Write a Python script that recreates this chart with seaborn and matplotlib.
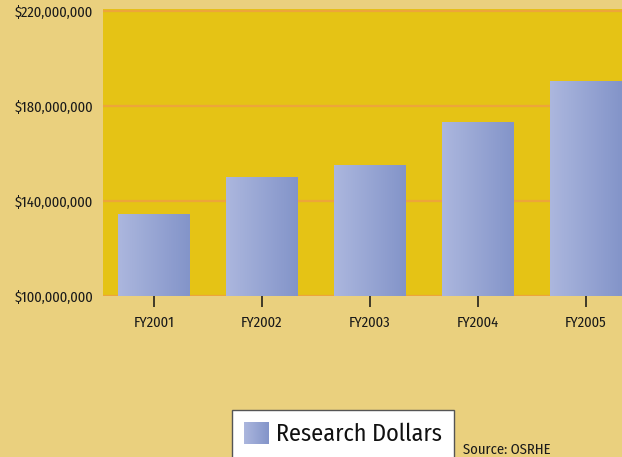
import numpy as np
import pandas as pd
import matplotlib
matplotlib.use("Agg")
import matplotlib.pyplot as plt
from matplotlib.colors import LinearSegmentedColormap
from matplotlib.ticker import FuncFormatter
from matplotlib.patches import Patch
import seaborn as sns

# Research dollars by fiscal year
years = ["FY2001", "FY2002", "FY2003", "FY2004", "FY2005"]
dollars = [134_500_000, 150_000_000, 155_000_000, 173_000_000, 190_500_000]
y_ticks = [100_000_000, 140_000_000, 180_000_000, 220_000_000]
series_name = "Research Dollars"
source_note = "Source: OSRHE"

FONT = ["Fira Sans Condensed", "DejaVu Sans"]
BG = "#ead07e"
PLOT_BG = "#e5c315"
GRID = "#eda53a"
BAR_LIGHT = "#acb7de"
BAR_DARK = "#8394c9"
bar_cmap = LinearSegmentedColormap.from_list("bar", [BAR_LIGHT, BAR_DARK])

plt.rcParams["font.family"] = FONT

fig = plt.figure(figsize=(6.22, 4.57), dpi=100, facecolor=BG)
ax = fig.add_axes([103 / 622, 1 - 296 / 457, (640 - 103) / 622, (296 - 9) / 457])
ax.set_facecolor(PLOT_BG)

df = pd.DataFrame({"year": years, "dollars": dollars})
sns.barplot(data=df, x="year", y="dollars", color=BAR_DARK, width=0.66,
            saturation=1, ax=ax, zorder=2)

# horizontal light-to-dark fill on each bar
grad = np.linspace(0, 1, 256).reshape(1, -1)
for patch in ax.patches:
    x0, y0 = patch.get_x(), patch.get_y()
    w, h = patch.get_width(), patch.get_height()
    ax.imshow(grad, extent=[x0, x0 + w, y0, y0 + h], aspect="auto",
              cmap=bar_cmap, zorder=3, interpolation="bilinear")

ax.set_xlim(-0.472, 4.5)
ax.set_ylim(100_000_000, 221_000_000)
ax.set_yticks(y_ticks)
ax.yaxis.set_major_formatter(FuncFormatter(lambda v, p: f"${v:,.0f}"))

ax.set_axisbelow(True)
ax.yaxis.grid(True, color=GRID, linewidth=1.6)
ax.xaxis.grid(False)
for s in ax.spines.values():
    s.set_visible(False)

ax.set_xlabel("")
ax.set_ylabel("")
ax.tick_params(axis="x", direction="out", length=8, width=1.1, color="#111111",
               pad=6.5, labelsize=10.5, labelcolor="#1a1a1a")
ax.tick_params(axis="y", length=0, pad=7, labelsize=10.5, labelcolor="#1a1a1a")

# legend below the chart
handle = Patch(facecolor=BAR_DARK, edgecolor="none", label=series_name)
leg = fig.legend(handles=[handle], loc="upper left",
                 bbox_to_anchor=(232 / 622, 1 - 410 / 457),
                 bbox_transform=fig.transFigure, frameon=True, fancybox=False,
                 fontsize=17.4, handlelength=1.0, handleheight=1.0,
                 handletextpad=0.33, borderpad=0.5, borderaxespad=0)
leg.get_frame().set_edgecolor("#555555")
leg.get_frame().set_linewidth(1.0)
leg.get_frame().set_facecolor("white")
leg.get_frame().set_alpha(1)
for t in leg.get_texts():
    t.set_color("#111111")

fig.text(463 / 622, 1 - 450 / 457, source_note, fontsize=10.5, color="#1a1a1a",
         va="center", ha="left")

# gradient swatch laid over the legend handle
fig.canvas.draw()
hb = leg.legend_handles[0].get_window_extent().transformed(fig.transFigure.inverted())
sw = fig.add_axes([hb.x0, hb.y0, hb.width, hb.height], zorder=10)
sw.imshow(grad, aspect="auto", cmap=bar_cmap, interpolation="bilinear")
sw.axis("off")

fig.savefig("out.png", dpi=100, facecolor=BG)
